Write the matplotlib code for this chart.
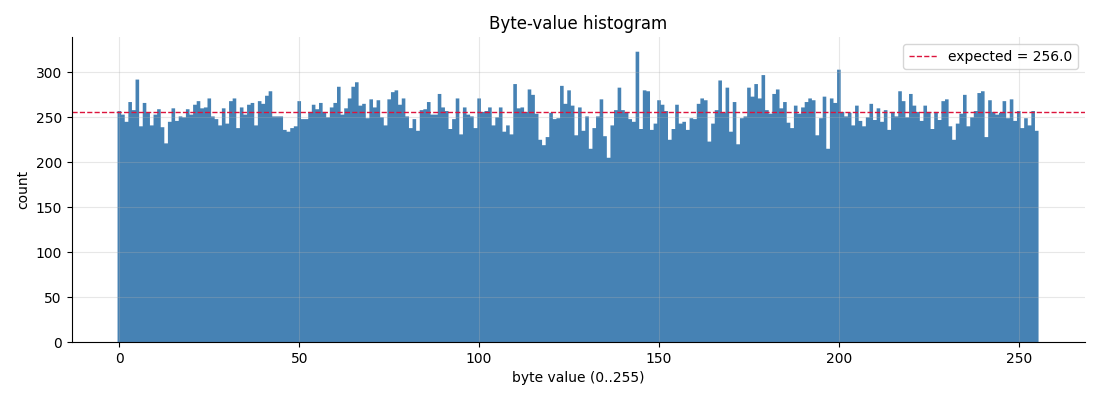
import matplotlib
matplotlib.use("Agg")
import matplotlib.pyplot as plt
import numpy as np

# counts per byte value 0..255
counts_0_51 = [257, 253, 245, 267, 258, 292, 240, 266, 255, 241,
               253, 259, 239, 221, 245, 260, 246, 251, 250, 259,
               253, 264, 268, 260, 261, 271, 251, 248, 241, 260,
               243, 268, 271, 238, 261, 253, 264, 266, 241, 268,
               265, 274, 279, 251, 251, 251, 236, 234, 238, 240,
               268, 248]
counts_52_103 = [248, 256, 264, 259, 266, 256, 250, 261, 266, 284,
                 253, 260, 271, 284, 289, 263, 265, 249, 270, 261,
                 269, 250, 241, 270, 278, 280, 264, 271, 251, 238,
                 248, 235, 258, 259, 267, 253, 253, 276, 261, 257,
                 237, 248, 271, 231, 261, 253, 251, 238, 271, 256,
                 257, 261]
counts_104_155 = [241, 250, 261, 234, 241, 231, 287, 260, 261, 256,
                  281, 275, 254, 225, 219, 228, 255, 248, 249, 285,
                  265, 280, 263, 230, 261, 235, 251, 215, 238, 251,
                  270, 229, 205, 241, 258, 283, 258, 255, 248, 245,
                  323, 237, 280, 279, 236, 243, 269, 264, 257, 225,
                  237, 264]
counts_156_207 = [243, 245, 236, 249, 248, 265, 271, 269, 223, 243,
                  258, 291, 255, 283, 234, 267, 220, 249, 251, 283,
                  273, 287, 271, 297, 258, 254, 276, 281, 260, 267,
                  244, 238, 263, 254, 261, 267, 271, 269, 230, 249,
                  273, 215, 271, 266, 303, 256, 251, 255, 241, 263,
                  246, 240]
counts_208_255 = [250, 265, 247, 260, 245, 258, 236, 256, 251, 279,
                  268, 250, 276, 263, 256, 246, 263, 256, 237, 256,
                  247, 268, 270, 240, 225, 243, 254, 275, 240, 250,
                  257, 277, 279, 228, 269, 256, 253, 255, 268, 249,
                  270, 246, 257, 238, 249, 241, 257, 235]

counts = np.array(counts_0_51 + counts_52_103 + counts_104_155
                  + counts_156_207 + counts_208_255)
byte_values = np.arange(256)
expected = 256.0

fig, ax = plt.subplots(figsize=(11, 4), dpi=100)
fig.subplots_adjust(left=0.065, right=0.986, top=0.907, bottom=0.145)

# one filled step outline, so no seams between neighbouring bins
ax.hist(byte_values, bins=np.arange(257) - 0.5, weights=counts,
        histtype="stepfilled", color="steelblue", linewidth=0)
ax.axhline(expected, color="crimson", linestyle="--", linewidth=1,
           label=f"expected = {expected}")

ax.set_title("Byte-value histogram")
ax.set_xlabel("byte value (0..255)")
ax.set_ylabel("count")
ax.grid(alpha=0.3)
ax.spines["top"].set_visible(False)
ax.spines["right"].set_visible(False)
ax.legend(loc="upper right")

fig.savefig("out.png")
